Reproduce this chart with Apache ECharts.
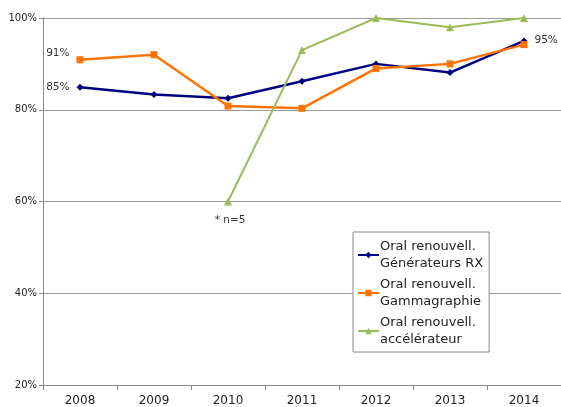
<!DOCTYPE html>
<html>
<head>
<meta charset="utf-8">
<script src="https://cdn.jsdelivr.net/npm/echarts@6/dist/echarts.min.js"></script>
<style>
  html, body { margin: 0; padding: 0; background: #fff; }
  #main { width: 561px; height: 407px; }
</style>
</head>
<body>
<div id="main"></div>
<script>
// data
var years = ['2008', '2009', '2010', '2011', '2012', '2013', '2014'];
var rx = [84.9, 83.3, 82.5, 86.2, 90, 88.1, 95];
var gamma = [90.9, 92, 80.8, 80.3, 89, 90, 94.2];
var accel = [null, null, 60, 93, 100, 98, 100];
var names = ['Oral renouvell. Générateurs RX', 'Oral renouvell. Gammagraphie', 'Oral renouvell. accélérateur'];

var chart = echarts.init(document.getElementById('main'));

// a few points carry their own text label
function withLabel(arr, idx, text, pos, offset) {
  return arr.map(function (v, i) {
    if (i !== idx) return v;
    return { value: v, label: { show: true, formatter: text, position: pos, offset: offset || [0, 0] } };
  });
}

var rxData = withLabel(rx, 0, '85%', 'left', [-2, 0]);
rxData = rxData.map(function (d, i) {
  if (i !== 6) return d;
  return { value: rx[6], label: { show: true, formatter: '95%', position: 'right', offset: [2, -1] } };
});
var gammaData = withLabel(gamma, 0, '91%', 'left', [-2, -6]);
var accelData = withLabel(accel, 2, '* n=5', 'bottom', [2, 4]);

var lbl = { color: '#333', fontFamily: 'DejaVu Sans', fontSize: 10.5 };

var option = {
  animation: false,
  grid: { left: 43, top: 18, width: 529, height: 370 },
  legend: {
    orient: 'vertical',
    left: 353,
    top: 232,
    width: 134,
    padding: [6, 6, 4, 4],
    itemGap: 4,
    itemWidth: 21,
    itemHeight: 8,
    borderColor: '#888',
    borderWidth: 1,
    backgroundColor: '#fff',
    data: names,
    formatter: function (n) { return n.replace('renouvell. ', 'renouvell.\n'); },
    textStyle: { color: '#222', fontFamily: 'DejaVu Sans', fontSize: 13, lineHeight: 17, padding: [0, 0, 0, -4] }
  },
  xAxis: {
    type: 'category',
    data: years,
    boundaryGap: true,
    axisLine: { lineStyle: { color: '#888' } },
    axisTick: { show: true, length: 5, lineStyle: { color: '#888' } },
    axisLabel: { color: '#222', fontFamily: 'DejaVu Sans', fontSize: 12, margin: 10 }
  },
  yAxis: {
    type: 'value',
    min: 20,
    max: 100,
    interval: 20,
    axisLine: { show: true, lineStyle: { color: '#888' } },
    axisTick: { show: true, length: 4, lineStyle: { color: '#888' } },
    splitLine: { lineStyle: { color: '#999' } },
    axisLabel: { color: '#222', fontFamily: 'DejaVu Sans', fontSize: 10, margin: 6, formatter: '{value}%' }
  },
  series: [
    {
      name: names[0], type: 'line', data: rxData,
      color: '#000080', symbol: 'diamond', symbolSize: 7,
      lineStyle: { width: 2.5 }, label: lbl
    },
    {
      name: names[1], type: 'line', data: gammaData,
      color: '#ff7300', symbol: 'rect', symbolSize: 7,
      lineStyle: { width: 2.5 }, label: lbl
    },
    {
      name: names[2], type: 'line', data: accelData,
      color: '#9bbb59', symbol: 'triangle', symbolSize: 8,
      lineStyle: { width: 2 }, label: lbl
    }
  ]
};

chart.setOption(option);
</script>
</body>
</html>
